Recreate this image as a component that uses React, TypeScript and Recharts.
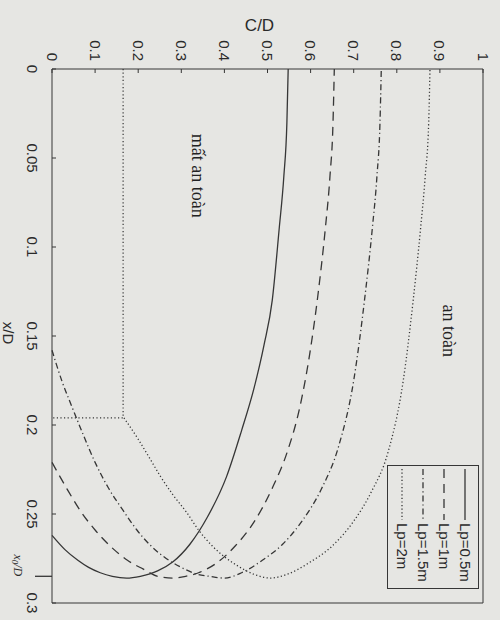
import { ScatterChart, Scatter, XAxis, YAxis, Legend, ReferenceDot } from 'recharts';

const INK = '#363636';
const PAPER = '#e6e6e3';
const SANS = '"Liberation Sans", Arial, sans-serif';
const SERIF = '"Liberation Serif", "Times New Roman", serif';

// axes (page is rotated 90deg: C/D runs along the top, x/D runs down the left)
const CD_TICKS = [0, 0.1, 0.2, 0.3, 0.4, 0.5, 0.6, 0.7, 0.8, 0.9, 1];
const XD_TICKS = [0, 0.05, 0.1, 0.15, 0.2, 0.25, 0.3];
const X0_D = 0.285;

// Lp = 0.5m
const LP05_CD = [0.548, 0.545, 0.538, 0.527, 0.511, 0.492, 0.468, 0.44, 0.405, 0.36, 0.32, 0.28, 0.245, 0.205, 0.173, 0.14, 0.112, 0.085, 0.06, 0.03, 0];
const LP05_XD = [0, 0.03, 0.06, 0.09, 0.13, 0.155, 0.18, 0.203, 0.229, 0.252, 0.267, 0.277, 0.282, 0.285, 0.286, 0.285, 0.283, 0.28, 0.276, 0.27, 0.262];

// Lp = 1m
const LP1_CD = [0.655, 0.652, 0.645, 0.634, 0.618, 0.598, 0.575, 0.546, 0.512, 0.47, 0.425, 0.385, 0.34, 0.31, 0.28, 0.245, 0.212, 0.175, 0.135, 0.1, 0.068, 0.035, 0];
const LP1_XD = [0, 0.03, 0.06, 0.09, 0.125, 0.16, 0.19, 0.215, 0.235, 0.254, 0.268, 0.277, 0.283, 0.285, 0.286, 0.285, 0.281, 0.276, 0.268, 0.259, 0.249, 0.236, 0.221];

// Lp = 1.5m
const LP15_CD = [0.764, 0.761, 0.754, 0.743, 0.725, 0.7, 0.665, 0.625, 0.58, 0.535, 0.488, 0.44, 0.4, 0.365, 0.339, 0.3, 0.265, 0.23, 0.197, 0.165, 0.13, 0.1, 0.07, 0.045, 0.024, 0];
const LP15_XD = [0, 0.03, 0.06, 0.09, 0.13, 0.175, 0.212, 0.236, 0.254, 0.267, 0.276, 0.283, 0.286, 0.285, 0.284, 0.28, 0.275, 0.268, 0.259, 0.248, 0.235, 0.221, 0.204, 0.189, 0.176, 0.158];

// Lp = 2m
const LP2_CD = [0.877, 0.874, 0.866, 0.855, 0.838, 0.815, 0.78, 0.74, 0.7, 0.65, 0.599, 0.544, 0.507, 0.47, 0.43, 0.4, 0.372, 0.34, 0.312, 0.28, 0.252, 0.225, 0.2, 0.167];
const LP2_XD = [0, 0.03, 0.06, 0.09, 0.13, 0.175, 0.215, 0.238, 0.254, 0.268, 0.277, 0.284, 0.286, 0.284, 0.279, 0.274, 0.268, 0.259, 0.249, 0.239, 0.229, 0.218, 0.208, 0.196];

// dotted edge of the "mất an toàn" region
const EDGE_CD = [0, 0.165, 0.165];
const EDGE_XD = [0.196, 0.196, 0];

const SERIES = [
  { name: 'Lp=0.5m', cd: LP05_CD, xd: LP05_XD, dash: undefined },
  { name: 'Lp=1m', cd: LP1_CD, xd: LP1_XD, dash: '9 6' },
  { name: 'Lp=1.5m', cd: LP15_CD, xd: LP15_XD, dash: '6 3 1.2 3' },
  { name: 'Lp=2m', cd: LP2_CD, xd: LP2_XD, dash: '1.2 2.4' },
];

// C/D falls steadily along every curve, so run the points left to right for monotoneX
const toPoints = (cd: number[], xd: number[]) => cd.map((c, i) => ({ cd: c, xd: xd[i] })).reverse();

const NoDot = () => <g />;

const TopTick = ({ x, y, payload }: any) => (
  <g>
    <line x1={x} y1={y} x2={x} y2={y + 4} stroke={INK} />
    <text
      transform={`translate(${x},${y - 8}) rotate(90)`}
      textAnchor="end"
      dominantBaseline="central"
      fontFamily={SANS}
      fontSize={15}
      fill="#2a2a2a"
    >
      {String(payload.value)}
    </text>
  </g>
);

const LeftTick = ({ x, y, payload }: any) => {
  if (payload.value === X0_D) {
    return (
      <g>
        <line x1={x - 17} y1={y} x2={x} y2={y} stroke={INK} strokeWidth={1.3} />
        <text
          transform={`translate(${x - 34},${y - 11}) rotate(90)`}
          textAnchor="middle"
          dominantBaseline="central"
          fontFamily={SERIF}
          fontStyle="italic"
          fontSize={12}
          fill="#2a2a2a"
        >
          x<tspan fontSize={9} dy={3}>0</tspan>
          <tspan dy={-3}>/D</tspan>
        </text>
      </g>
    );
  }
  return (
    <g>
      <line x1={x} y1={y} x2={x + 4} y2={y} stroke={INK} />
      <text
        transform={`translate(${x - 20},${y}) rotate(90)`}
        textAnchor="middle"
        dominantBaseline="central"
        fontFamily={SANS}
        fontSize={15}
        fill="#2a2a2a"
      >
        {String(payload.value)}
      </text>
    </g>
  );
};

const BottomTick = ({ x, y }: any) => <line x1={x} y1={y} x2={x} y2={y - 4} stroke={INK} />;
const RightTick = ({ x, y }: any) => <line x1={x} y1={y} x2={x - 4} y2={y} stroke={INK} />;

const RotatedNote = ({ viewBox, text }: any) => (
  <text
    transform={`translate(${viewBox.x},${viewBox.y}) rotate(90)`}
    textAnchor="middle"
    dominantBaseline="central"
    fontFamily={SERIF}
    fontSize={18}
    fill="#222"
  >
    {text}
  </text>
);

const LegendBox = () => (
  <svg width={92} height={124} style={{ display: 'block' }}>
    <rect x={0.5} y={0.5} width={91} height={123} fill={PAPER} stroke={INK} />
    {SERIES.map((s, i) => {
      const cx = 78 - i * 21;
      return (
        <g key={s.name}>
          <line x1={cx} y1={4} x2={cx} y2={55} stroke={INK} strokeWidth={1.3} strokeDasharray={s.dash} />
          <text
            transform={`translate(${cx},${58}) rotate(90)`}
            textAnchor="start"
            dominantBaseline="central"
            fontFamily={SANS}
            fontSize={15}
            fill="#2a2a2a"
          >
            {s.name}
          </text>
        </g>
      );
    })}
  </svg>
);

export default function App() {
  return (
    <div style={{ position: 'absolute', left: 0, top: 0, width: 500, height: 620, background: PAPER }}>
      <ScatterChart width={500} height={620} margin={{ top: 9, right: 0, bottom: 0, left: 2 }}>
        <XAxis
          dataKey="cd"
          type="number"
          orientation="top"
          domain={[0, 1]}
          ticks={CD_TICKS}
          interval={0}
          height={60}
          tickSize={0}
          tickMargin={0}
          tickLine={false}
          tick={<TopTick />}
          axisLine={{ stroke: INK }}
          label={({ viewBox }: any) => (
            <text
              x={viewBox.x + viewBox.width / 2 - 8}
              y={viewBox.y + 16}
              textAnchor="middle"
              dominantBaseline="central"
              fontFamily={SANS}
              fontSize={17}
              fill="#2a2a2a"
            >
              C/D
            </text>
          )}
        />
        <XAxis
          xAxisId="b"
          type="number"
          orientation="bottom"
          domain={[0, 1]}
          ticks={CD_TICKS}
          interval={0}
          height={17}
          tickSize={0}
          tickMargin={0}
          tickLine={false}
          tick={<BottomTick />}
          axisLine={{ stroke: INK }}
        />
        <YAxis
          dataKey="xd"
          type="number"
          reversed
          domain={[0, 0.3]}
          ticks={[...XD_TICKS, X0_D]}
          interval={0}
          width={50}
          tickSize={0}
          tickMargin={0}
          tickLine={false}
          tick={<LeftTick />}
          axisLine={{ stroke: INK }}
          label={({ viewBox }: any) => (
            <text
              transform={`translate(${viewBox.x + 6},${viewBox.y + viewBox.height / 2 - 3}) rotate(90)`}
              textAnchor="middle"
              dominantBaseline="central"
              fontFamily={SANS}
              fontSize={15}
              fill="#2a2a2a"
            >
              x/D
            </text>
          )}
        />
        <YAxis
          yAxisId="r"
          type="number"
          orientation="right"
          reversed
          domain={[0, 0.3]}
          ticks={XD_TICKS}
          interval={0}
          width={17}
          tickSize={0}
          tickMargin={0}
          tickLine={false}
          tick={<RightTick />}
          axisLine={{ stroke: INK }}
        />
        {SERIES.map((s) => (
          <Scatter
            key={s.name}
            name={s.name}
            data={toPoints(s.cd, s.xd)}
            fill={INK}
            shape={NoDot}
            line={{ stroke: INK, strokeWidth: 1.3, strokeDasharray: s.dash }}
            lineJointType="monotoneX"
            isAnimationActive={false}
          />
        ))}
        <Scatter
          name="edge"
          data={toPoints(EDGE_CD, EDGE_XD)}
          fill={INK}
          shape={NoDot}
          line={{ stroke: INK, strokeWidth: 1.2, strokeDasharray: '1.2 2.4' }}
          legendType="none"
          isAnimationActive={false}
        />
        <ReferenceDot x={0.92} y={0.147} r={0} ifOverflow="visible" label={(p: any) => <RotatedNote {...p} text="an toàn" />} />
        <ReferenceDot x={0.338} y={0.06} r={0} ifOverflow="visible" label={(p: any) => <RotatedNote {...p} text="mất an toàn" />} />
        <Legend
          layout="vertical"
          align="center"
          verticalAlign="middle"
          content={() => <LegendBox />}
          wrapperStyle={{ left: 387, top: 465, width: 92, height: 124 }}
        />
      </ScatterChart>
    </div>
  );
}
